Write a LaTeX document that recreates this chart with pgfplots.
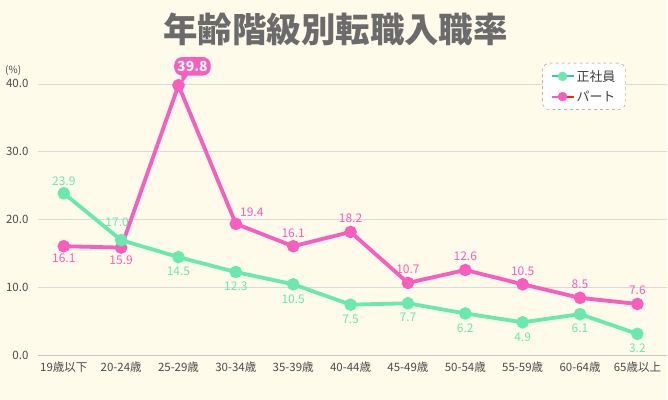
\documentclass[border=0pt]{standalone}
\usepackage{pgfplots}
\pgfplotsset{compat=1.18}
\usepackage{fontspec}
\setmainfont{Noto Sans CJK JP}
\definecolor{bgc}{HTML}{FFFBEB}
\definecolor{greenc}{HTML}{6AE9AF}
\definecolor{pinkc}{HTML}{F95DBE}
\definecolor{titlec}{HTML}{6B6B6B}
\definecolor{tickc}{HTML}{4A4A4A}
\begin{document}
\begin{tikzpicture}[x=1pt,y=1pt]
\fill[bgc] (0,0) rectangle (668,400);
\node[font=\bfseries\fontsize{34.5}{34.5}\selectfont, text=titlec] at (336,371) {年齢階級別転職入職率};
\node[anchor=west, font=\fontsize{10}{10}\selectfont, text=tickc, inner sep=0pt] at (5,330) {(\%)};
\begin{axis}[
  at={(38pt,44pt)}, anchor=south west,
  scale only axis, width=630pt, height=272pt,
  xmin=-0.45, xmax=10.52, ymin=0, ymax=40,
  clip=false,
  axis line style={draw=none},
  xtick={0,...,10},
  xticklabels={19歳以下,20-24歳,25-29歳,30-34歳,35-39歳,40-44歳,45-49歳,50-54歳,55-59歳,60-64歳,65歳以上},
  ytick={10,20,30,40},
  extra y ticks={0},
  extra y tick style={grid style={draw=black!22, line width=1.6pt}},
  ymajorgrids, grid style={draw=black!15, line width=0.8pt},
  major tick length=0pt,
  /pgf/number format/assume math mode=true,
  yticklabel={\pgfmathprintnumber[fixed,precision=1,zerofill]{\tick}},
  ticklabel style={font=\fontsize{11.5}{11.5}\selectfont, text=tickc},
  yticklabel style={anchor=east, xshift=-6pt},
  xticklabel style={anchor=north, yshift=-3pt},
  legend style={at={(0.8016,1.077)}, anchor=north west, draw=black!45, dashed, rounded corners=7pt, fill=white,
    font=\fontsize{13}{14}\selectfont, text=black!75, inner xsep=8pt, inner ysep=5pt, row sep=4pt},
  legend cell align=left,
  nodes near coords={\pgfmathprintnumber[fixed,precision=1,zerofill]{\pgfplotspointmeta}},
  every node near coord/.append style={font=\fontsize{12}{12}\selectfont, inner sep=0pt, anchor=center},
]
\addlegendimage{legend image code/.code={\draw[cyan!45!greenc, line width=2pt, solid] (0pt,0pt) -- (22pt,0pt); \fill[greenc] (11pt,0pt) circle (4.5pt);}}
\addlegendentry{正社員}
\addlegendimage{legend image code/.code={\draw[pinkc, line width=2pt, solid] (0pt,0pt) -- (11pt,0pt); \draw[red!70!orange, line width=2pt, solid] (11pt,0pt) -- (22pt,0pt); \fill[pinkc] (11pt,0pt) circle (4.5pt);}}
\addlegendentry{パート}
% pink series
\addplot[pinkc, line width=3.8pt, mark=*, mark size=4.3pt, mark options={solid, fill=pinkc, draw=none}, nodes near coords={}, forget plot]
  coordinates {(0,16.1) (1,15.9) (2,39.8) (3,19.4) (4,16.1) (5,18.2) (6,10.7) (7,12.6) (8,10.5) (9,8.5) (10,7.6)};
% green series
\addplot[greenc, line width=3.8pt, mark=*, mark size=4.3pt, mark options={solid, fill=greenc, draw=none}, nodes near coords={}, forget plot]
  coordinates {(0,23.9) (1,17.0) (2,14.5) (3,12.3) (4,10.5) (5,7.5) (6,7.7) (7,6.2) (8,4.9) (9,6.1) (10,3.2)};
% labels green
\addplot[draw=none, mark=none, forget plot, every node near coord/.append style={text=greenc, yshift=-14.5pt}]
  coordinates {(2,14.5) (3,12.3) (4,10.5) (5,7.5) (6,7.7) (7,6.2) (8,4.9) (9,6.1) (10,3.2)};
\addplot[draw=none, mark=none, forget plot, every node near coord/.append style={text=greenc, yshift=12.5pt}]
  coordinates {(0,23.9)};
\addplot[draw=none, mark=none, forget plot, every node near coord/.append style={text=greenc, yshift=18pt, xshift=-4pt}]
  coordinates {(1,17.0)};
% labels pink
\addplot[draw=none, mark=none, forget plot, every node near coord/.append style={text=pinkc, yshift=-12.5pt}]
  coordinates {(0,16.1) (1,15.9)};
\addplot[draw=none, mark=none, forget plot, every node near coord/.append style={text=pinkc, yshift=13.5pt}]
  coordinates {(4,16.1) (5,18.2) (6,10.7) (7,12.6) (8,10.5) (9,8.5) (10,7.6)};
\addplot[draw=none, mark=none, forget plot, every node near coord/.append style={text=pinkc, yshift=12pt, xshift=16pt}]
  coordinates {(3,19.4)};
\node[fill=pinkc, rounded corners=8pt, text=white, font=\bfseries\fontsize{14}{14}\selectfont, inner xsep=3pt, inner ysep=4pt]
  (bub) at (axis cs:2,39.8) [xshift=14pt, yshift=19pt] {39.8};
\fill[pinkc] ([xshift=-11pt,yshift=2pt]bub.south) -- ([xshift=-11pt,yshift=-8pt]bub.south) -- ([xshift=-3pt,yshift=2pt]bub.south) -- cycle;
\end{axis}
\end{tikzpicture}
\end{document}
